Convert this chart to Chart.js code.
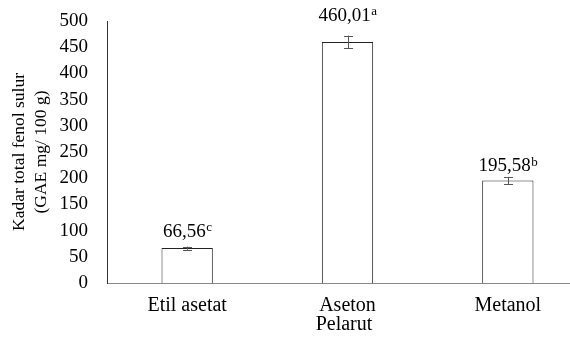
<!DOCTYPE html>
<html>
<head>
<meta charset="utf-8">
<script src="https://cdn.jsdelivr.net/npm/chart.js@4"></script>
<style>
  html, body { margin: 0; padding: 0; background: #fff; overflow: hidden; }
  #wrap { width: 570px; height: 344px; overflow: hidden; }
</style>
</head>
<body>
<div id="wrap"><canvas id="c" width="588" height="344"></canvas></div>
<script>
// Solvents and total phenol content of the shoot extracts
const categories = ['Etil asetat', 'Aseton', 'Metanol'];
const values = [66.56, 460.01, 195.58];
const errors = [3, 12, 7];
const letters = ['c', 'a', 'b'];
const yTicks = [0, 50, 100, 150, 200, 250, 300, 350, 400, 450, 500];

const FONT = '"Liberation Serif", "Times New Roman", serif';

const fmt = v => v.toFixed(2).replace('.', ',');

// distance (px) from each bar top to its label baseline
const LABEL_GAP = [11.5, 21, 9.5];

// Error bars, value labels with superscript letters, and axis titles
const annotate = {
  id: 'annotate',
  afterDatasetsDraw(chart) {
    const { ctx, scales: { x, y } } = chart;
    ctx.save();
    // error bars
    ctx.strokeStyle = '#555';
    ctx.lineWidth = 1;
    values.forEach((v, i) => {
      const cx = Math.round(x.getPixelForValue(i)) + 0.5;
      const top = y.getPixelForValue(v + errors[i]);
      const bot = y.getPixelForValue(v - errors[i]);
      ctx.beginPath();
      ctx.moveTo(cx, top); ctx.lineTo(cx, bot);
      ctx.moveTo(cx - 4.5, Math.round(top) + 0.5); ctx.lineTo(cx + 4.5, Math.round(top) + 0.5);
      ctx.moveTo(cx - 4.5, Math.round(bot) + 0.5); ctx.lineTo(cx + 4.5, Math.round(bot) + 0.5);
      ctx.stroke();
    });
    // value labels
    ctx.fillStyle = '#000';
    ctx.textBaseline = 'alphabetic';
    values.forEach((v, i) => {
      const cx = x.getPixelForValue(i);
      const base = y.getPixelForValue(v) - LABEL_GAP[i];
      const main = fmt(v);
      ctx.font = '19px ' + FONT;
      const wMain = ctx.measureText(main).width;
      ctx.font = '13px ' + FONT;
      const wSup = ctx.measureText(letters[i]).width;
      const start = cx - (wMain + wSup) / 2;
      ctx.font = '19px ' + FONT;
      ctx.textAlign = 'left';
      ctx.fillText(main, start, base);
      ctx.font = '13px ' + FONT;
      ctx.fillText(letters[i], start + wMain + 0.5, base - 5.5);
    });
    // axis titles
    ctx.textAlign = 'center';
    ctx.textBaseline = 'middle';
    ctx.font = '20px ' + FONT;
    ctx.fillText('Pelarut', 344, 325);
    ctx.font = '17.5px ' + FONT;
    ctx.save();
    ctx.translate(19, 152);
    ctx.rotate(-Math.PI / 2);
    ctx.fillText('Kadar total fenol sulur', 0, 0);
    ctx.fillText('(GAE mg/ 100 g)', 0, 22);
    ctx.restore();
    ctx.restore();
  }
};

new Chart(document.getElementById('c'), {
  type: 'bar',
  data: {
    labels: categories,
    datasets: [{
      data: values,
      backgroundColor: '#ffffff',
      borderColor: '#222',
      borderWidth: 1,
      borderSkipped: 'bottom',
      categoryPercentage: 1,
      barPercentage: 0.32
    }]
  },
  options: {
    responsive: false,
    animation: false,
    layout: { padding: { top: 21, left: 0, right: 0, bottom: 0 } },
    plugins: { legend: { display: false }, tooltip: { enabled: false } },
    scales: {
      x: {
        grid: { display: false, drawTicks: false },
        border: { color: '#888', width: 1 },
        ticks: { color: '#000', font: { family: FONT, size: 20 }, padding: 11 },
        afterFit(s) { s.height = 61; s.paddingLeft = 0; s.paddingRight = 0; }
      },
      y: {
        min: 0, max: 500,
        afterBuildTicks(s) { s.ticks = yTicks.map(v => ({ value: v })); },
        grid: { display: false, drawTicks: false },
        border: { color: '#333', width: 1 },
        ticks: { color: '#000', font: { family: FONT, size: 19 }, padding: 19 },
        afterFit(s) { s.width = 107; s.paddingTop = 0; s.paddingBottom = 0; }
      }
    }
  },
  plugins: [annotate]
});
</script>
</body>
</html>
